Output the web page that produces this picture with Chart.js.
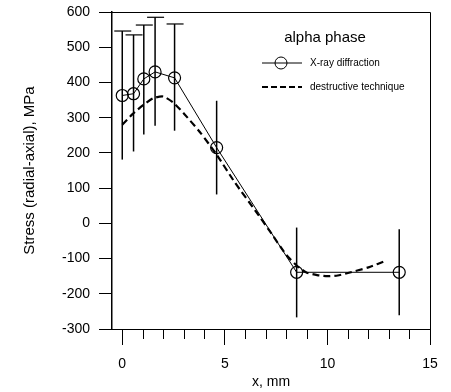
<!DOCTYPE html>
<html>
<head>
<meta charset="utf-8">
<script src="https://cdn.jsdelivr.net/npm/chart.js@4.4.1/dist/chart.umd.min.js"></script>
<style>
  html, body { margin: 0; padding: 0; background: #fff; }
</style>
</head>
<body>
<canvas id="stressChart" width="451" height="392"></canvas>
<script>
// X-ray diffraction points, with error bar ends
const xrayX = [0, 0.55, 1.05, 1.6, 2.55, 4.6, 8.5, 13.5];
const xrayY = [363, 368, 410, 430, 413, 215, -139, -139];
const xrayHigh = [546, 535, 563, 585, 566, 348, -12, -17];
const xrayLow = [181, 204, 252, 277, 263, 82, -267, -261];

// destructive technique curve
const destX = [0, 0.5, 1, 1.5, 2, 2.5, 3, 3.8, 4.6, 5.5, 6.5, 7.2, 8, 8.6, 9, 9.5, 10, 10.5, 11, 12, 12.9];
const destY = [280, 310, 335, 355, 360, 342, 312, 258, 195, 115, 35, -23, -90, -125, -140, -147, -150, -148, -141, -125, -105];

const xTickValues = [0, 5, 10, 15];
const xMinorTicks = [1, 2, 3, 4, 6, 7, 8, 9, 11, 12, 13, 14];
const legendTitle = 'alpha phase';

Chart.defaults.font.family = "'Liberation Sans', Arial, sans-serif";
Chart.defaults.color = '#000';

// error bars, frame, minor ticks and the legend
const extras = {
  id: 'extras',
  afterDatasetsDraw(chart) {
    const { ctx, chartArea: a, scales: { x, y } } = chart;
    ctx.save();
    ctx.strokeStyle = '#000';
    ctx.lineWidth = 1.5;
    xrayX.forEach((v, i) => {
      const px = x.getPixelForValue(v);
      const top = y.getPixelForValue(xrayHigh[i]);
      const bot = y.getPixelForValue(xrayLow[i]);
      ctx.beginPath();
      ctx.moveTo(px, top);
      ctx.lineTo(px, bot);
      ctx.stroke();
      if (i < 5) {
        ctx.lineWidth = 1.2;
        ctx.beginPath();
        ctx.moveTo(px - 8, top);
        ctx.lineTo(px + 9, top);
        ctx.stroke();
        ctx.lineWidth = 1.5;
      }
    });

    // frame
    ctx.lineWidth = 1;
    ctx.beginPath();
    ctx.moveTo(a.left, a.top + 0.5);
    ctx.lineTo(a.right + 0.5, a.top + 0.5);
    ctx.lineTo(a.right + 0.5, a.bottom);
    ctx.stroke();

    // minor ticks on x
    xMinorTicks.forEach(v => {
      const px = Math.round(x.getPixelForValue(v)) + 0.5;
      ctx.beginPath();
      ctx.moveTo(px, a.bottom);
      ctx.lineTo(px, a.bottom + 10);
      ctx.stroke();
    });

    // legend
    const lx = a.left + 150;
    ctx.fillStyle = '#000';
    ctx.font = "15px 'Liberation Sans', Arial, sans-serif";
    ctx.textAlign = 'center';
    ctx.textBaseline = 'middle';
    ctx.fillText(legendTitle, a.left + 213, a.top + 26);
    ctx.font = "10px 'Liberation Sans', Arial, sans-serif";
    ctx.textAlign = 'left';
    const ds = chart.data.datasets;
    let ly = a.top + 51;
    ctx.lineWidth = 1;
    ctx.beginPath();
    ctx.moveTo(lx, ly);
    ctx.lineTo(lx + 40, ly);
    ctx.stroke();
    ctx.beginPath();
    ctx.arc(lx + 19, ly, 6, 0, Math.PI * 2);
    ctx.stroke();
    ctx.fillText(ds[0].label, lx + 48, ly);
    ly = a.top + 75;
    ctx.lineWidth = 2;
    ctx.setLineDash([6, 3]);
    ctx.beginPath();
    ctx.moveTo(lx, ly);
    ctx.lineTo(lx + 40, ly);
    ctx.stroke();
    ctx.setLineDash([]);
    ctx.fillText(ds[1].label, lx + 48, ly);
    ctx.restore();
  }
};

const ctx = document.getElementById('stressChart').getContext('2d');
const stressChart = new Chart(ctx, {
  type: 'scatter',
  data: {
    datasets: [{
      label: 'X-ray diffraction',
      data: xrayX.map((v, i) => ({ x: v, y: xrayY[i] })),
      showLine: true,
      borderColor: '#000',
      borderWidth: 1,
      pointRadius: 6,
      pointBorderWidth: 1.2,
      pointBackgroundColor: 'rgba(0,0,0,0)',
      pointBorderColor: '#000'
    }, {
      label: 'destructive technique',
      data: destX.map((v, i) => ({ x: v, y: destY[i] })),
      showLine: true,
      borderColor: '#000',
      borderWidth: 2.2,
      borderDash: [7, 4],
      tension: 0.2,
      pointRadius: 0
    }]
  },
  options: {
    responsive: false,
    animation: false,
    devicePixelRatio: 1,
    layout: { padding: { top: 12, right: 21, left: 0, bottom: 0 } },
    plugins: {
      legend: { display: false },
      tooltip: { enabled: false }
    },
    scales: {
      x: {
        type: 'linear',
        min: -0.5,
        max: 15,
        afterBuildTicks: s => { s.ticks = xTickValues.map(v => ({ value: v })); },
        afterFit: s => { s.height = 63; s.paddingLeft = 0; s.paddingRight = 0; },
        grid: { drawOnChartArea: false, tickLength: 16, color: '#000', tickColor: '#000' },
        border: { color: '#000', width: 1 },
        ticks: { font: { size: 14 }, padding: 11, maxRotation: 0 },
        title: { display: true, text: 'x, mm', font: { size: 14 }, padding: { top: 0, bottom: 1 } }
      },
      y: {
        min: -300,
        max: 600,
        afterFit: s => { s.width = 112; s.paddingTop = 0; s.paddingBottom = 0; },
        grid: { drawOnChartArea: false, tickLength: 13, color: '#000', tickColor: '#000' },
        border: { color: '#000', width: 1.5 },
        ticks: { stepSize: 100, font: { size: 14 }, padding: 9 },
        title: { display: true, text: 'Stress (radial-axial), MPa', font: { size: 15 }, padding: { top: 21, bottom: 0 } }
      }
    }
  },
  plugins: [extras]
});
</script>
</body>
</html>
